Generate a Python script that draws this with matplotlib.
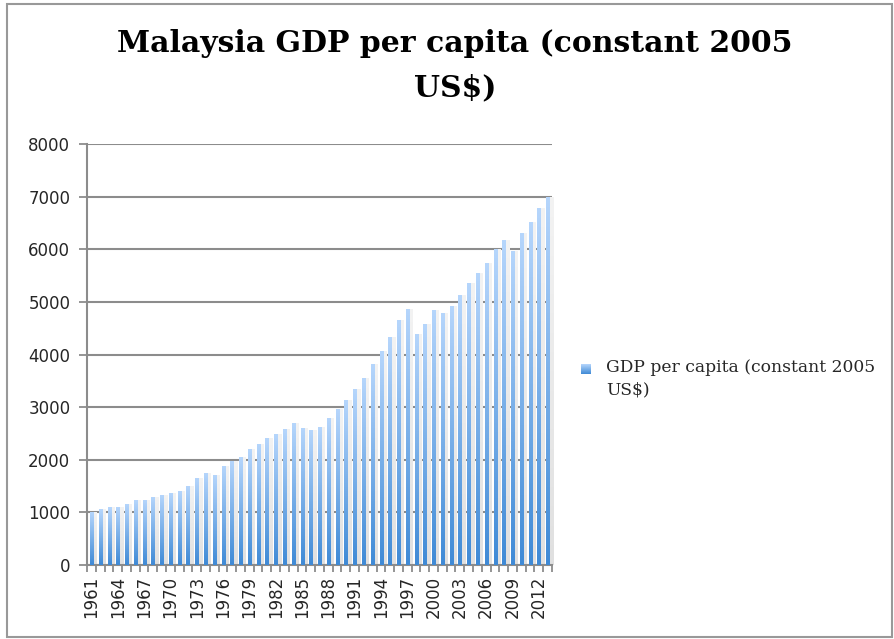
import numpy as np
import matplotlib

matplotlib.use("Agg")
import matplotlib.pyplot as plt
from matplotlib.colors import LinearSegmentedColormap
from matplotlib.patches import Rectangle

# 数据
years = list(range(1961, 2014))
gdp = [1014, 1059, 1097, 1109, 1160, 1230, 1242, 1300, 1338, 1376,
       1414, 1502, 1655, 1756, 1712, 1883, 1984, 2048, 2200, 2301,
       2409, 2485, 2580, 2694, 2605, 2567, 2618, 2796, 2960, 3132,
       3341, 3550, 3816, 4063, 4342, 4647, 4868, 4399, 4571, 4849,
       4780, 4926, 5122, 5363, 5547, 5737, 6003, 6174, 5972, 6307,
       6517, 6783, 6992]
title = 'Malaysia GDP per capita (constant 2005\nUS$)'
series_name = 'GDP per capita (constant 2005\nUS$)'

blue_cmap = LinearSegmentedColormap.from_list('b', ['#3f8ad6', '#b6d6fc'])
grey_cmap = LinearSegmentedColormap.from_list('g', ['#e0e0e0', '#f3f3f3'])
grad = np.linspace(0, 1, 256).reshape(-1, 1)
grid_color = '#8c8c8c'
text_color = '#262626'

fig = plt.figure(figsize=(8.94, 6.39), dpi=100)
ax = fig.add_axes([87 / 894, 74 / 639, 465 / 894, 421 / 639])

x = np.arange(len(years))
shadows = ax.bar(x + 0.42, gdp, width=0.40, color='none', linewidth=0, zorder=2)
bars = ax.bar(x + 0.03, gdp, width=0.38, color='none', linewidth=0, zorder=3)
for group, cmap, z in [(shadows, grey_cmap, 2), (bars, blue_cmap, 3)]:
    for b in group:
        bx, by = b.get_x(), b.get_y()
        w, h = b.get_width(), b.get_height()
        im = ax.imshow(grad, cmap=cmap, origin='lower', aspect='auto',
                       extent=[bx, bx + w, by, by + h], zorder=z)
        im.set_clip_path(b)

ax.set_xlim(-0.5, len(years) - 0.5)
ax.set_ylim(0, 8000)
ax.set_yticks(range(0, 8001, 1000))
ax.yaxis.grid(True, color=grid_color, linewidth=1.5, zorder=1)
ax.set_axisbelow(True)

# x 轴刻度在类别边界，标签每隔三年
ax.set_xticks(np.arange(-0.5, len(years), 1.0))
ax.set_xticklabels([])
ax.set_xticks(x[::3], minor=True)
ax.set_xticklabels([str(y) for y in years[::3]], minor=True, rotation=90,
                   fontsize=12, family='DejaVu Sans', color=text_color)
ax.tick_params(axis='x', which='major', length=5, width=1.3, color=grid_color)
ax.tick_params(axis='x', which='minor', length=0, pad=8)
ax.tick_params(axis='y', length=6, width=1.3, color=grid_color,
               labelsize=12, pad=6)
for lab in ax.get_yticklabels():
    lab.set_family('DejaVu Sans')
    lab.set_color(text_color)

for s in ['top', 'right']:
    ax.spines[s].set_visible(False)
for s in ['left', 'bottom']:
    ax.spines[s].set_color(grid_color)
    ax.spines[s].set_linewidth(1.5)

fig.text(455 / 894, 1 - 29 / 639, title, ha='center', va='top',
         fontsize=21.5, fontweight='bold', family='DejaVu Serif',
         linespacing=1.65, color='black')

# 图例
leg_ax = fig.add_axes([581 / 894, 1 - 374 / 639, 10 / 894, 10 / 639])
leg_ax.imshow(grad, cmap=blue_cmap, origin='lower', aspect='auto', extent=[0, 1, 0, 1])
leg_ax.axis('off')
fig.text(606 / 894, 1 - 359 / 639, series_name, ha='left', va='top',
         fontsize=12.3, family='DejaVu Serif', color=text_color,
         linespacing=1.4)

fig.patches.append(Rectangle((7 / 894, 2 / 639), 885 / 894, 633 / 639,
                             transform=fig.transFigure, fill=False,
                             edgecolor='#999999', linewidth=1.5))

plt.savefig('out.png', dpi=100)
